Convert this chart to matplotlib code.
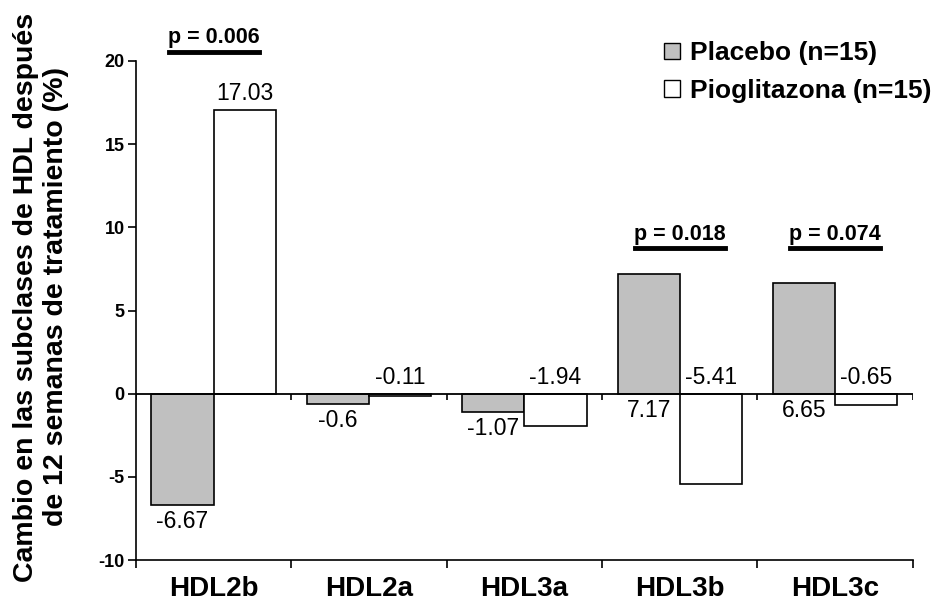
import matplotlib
matplotlib.use('Agg')
import matplotlib.pyplot as plt
import numpy as np
from matplotlib.patches import Patch

plt.rcParams['font.family'] = ['Liberation Sans', 'DejaVu Sans']
plt.rcParams['axes.unicode_minus'] = False

categorias = ['HDL2b', 'HDL2a', 'HDL3a', 'HDL3b', 'HDL3c']
placebo = [-6.67, -0.6, -1.07, 7.17, 6.65]
pioglitazona = [17.03, -0.11, -1.94, -5.41, -0.65]
p_valores = {0: 'p = 0.006', 3: 'p = 0.018', 4: 'p = 0.074'}

fig = plt.figure(figsize=(9.44, 6.03), dpi=100)
ax = fig.add_axes([0.144, 0.071, 0.823, 0.828])

x = np.arange(len(categorias))
w = 0.4
ax.bar(x - w/2, placebo, w, color='#c0c0c0', edgecolor='black', linewidth=1.2, zorder=2)
ax.bar(x + w/2, pioglitazona, w, color='white', edgecolor='black', linewidth=1.2, zorder=2)

# linea del cero con marcas
ax.axhline(0, color='black', linewidth=1.3, zorder=3)
bordes = np.arange(len(categorias) + 1) - 0.5
ax.vlines(bordes, -0.38, 0, color='black', linewidth=1.2, zorder=3)

# etiquetas de valores
for i, v in enumerate(placebo):
    ax.text(x[i] - w/2, min(0, v) - 0.3, '{:g}'.format(v), ha='center', va='top', fontsize=16.5)
for i, v in enumerate(pioglitazona):
    ax.text(x[i] + w/2, max(0, v) + 0.3, '{:g}'.format(v), ha='center', va='bottom', fontsize=16.5)

# p valores
for i, txt in p_valores.items():
    yl = 20.55 if i == 0 else 8.73
    ax.plot([x[i] - 0.29, x[i] + 0.29], [yl, yl], color='black', linewidth=3.5, clip_on=False)
    ax.text(x[i], yl + 0.2, txt, ha='center', va='bottom', fontsize=15.5, fontweight='bold')

ax.set_xlim(-0.5, len(categorias) - 0.5)
ax.set_ylim(-10, 20)
ax.set_yticks(range(-10, 21, 5))
ax.set_xticks(bordes)
ax.set_xticklabels([])
ax.tick_params(axis='both', direction='out', length=6, width=1.2, labelsize=13, pad=2)
for lab in ax.get_yticklabels():
    lab.set_fontweight('bold')
for i, c in enumerate(categorias):
    ax.text(x[i], -10.95, c, ha='center', va='top', fontsize=20, fontweight='bold')

ax.spines['top'].set_visible(False)
ax.spines['right'].set_visible(False)
ax.spines['left'].set_linewidth(1.2)
ax.spines['bottom'].set_linewidth(1.2)

fig.text(41/944, 1 - 297/603, 'Cambio en las subclases de HDL después\nde 12 semanas de tratamiento (%)',
         rotation=90, ha='center', va='center', fontsize=20.5, fontweight='bold', linespacing=1.2,
         multialignment='center')

handles = [Patch(facecolor='#c0c0c0', edgecolor='black', label='Placebo (n=15)'),
           Patch(facecolor='white', edgecolor='black', label='Pioglitazona (n=15)')]
leg = fig.legend(handles=handles, loc='upper left', bbox_to_anchor=(0.692, 0.949), frameon=False,
                 prop={'size': 19, 'weight': 'bold'}, handlelength=0.6, handleheight=0.6,
                 handletextpad=0.4, labelspacing=0.5, borderaxespad=0)

fig.savefig('out.png', dpi=100)
